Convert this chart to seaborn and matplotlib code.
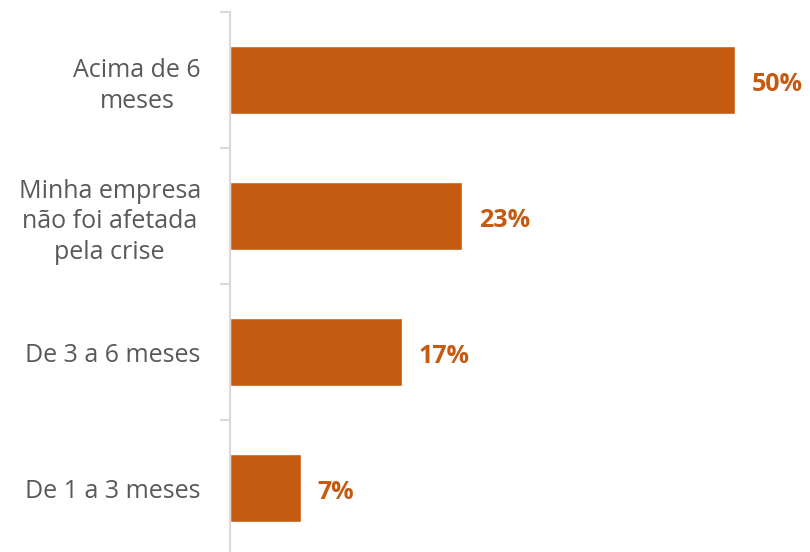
import matplotlib
matplotlib.use("Agg")
import matplotlib.pyplot as plt
import seaborn as sns
import pandas as pd

categories = ["Acima de 6\nmeses", "Minha empresa\nnão foi afetada\npela crise", "De 3 a 6 meses", "De 1 a 3 meses"]
values = [50, 23, 17, 7]
value_labels = ["50%", "23%", "17%", "7%"]

sns.set_theme(style="white")
plt.rcParams['font.family'] = ['Open Sans', 'DejaVu Sans']

df = pd.DataFrame({"cat": categories, "val": values})

fig = plt.figure(figsize=(8.1, 5.52), dpi=100)
ax = fig.add_axes([230/810, 1 - 556/552, 580/810, 544/552])
ax.set_facecolor("none")

sns.barplot(data=df, x="val", y="cat", color="#C55A11", saturation=1, width=0.5, ax=ax, orient="h")

ax.set_xlim(0, 580/10.1)
ax.set_ylim(3.5, -0.5)
ax.set_xlabel("")
ax.set_ylabel("")
ax.set_xticks([])

for s in ["top", "right", "bottom"]:
    ax.spines[s].set_visible(False)
ax.spines["left"].set_color("#D9D9D9")
ax.spines["left"].set_linewidth(1.5)

ax.tick_params(axis="y", which="major", length=0, pad=21, labelsize=18, labelcolor="#595959")
for t in ax.get_yticklabels():
    t.set_multialignment("center")
    t.set_linespacing(1.3)
ax.set_yticks([-0.5, 0.5, 1.5, 2.5, 3.5], minor=True)
ax.tick_params(axis="y", which="minor", length=7, width=1.5, color="#D9D9D9", left=True)

for i, (v, lab) in enumerate(zip(values, value_labels)):
    ax.annotate(lab, xy=(v, i), xytext=(12, -3), textcoords="offset points",
                va="center", ha="left", fontsize=18, fontweight="bold", color="#C55A11")

fig.savefig("out.png", dpi=100)
